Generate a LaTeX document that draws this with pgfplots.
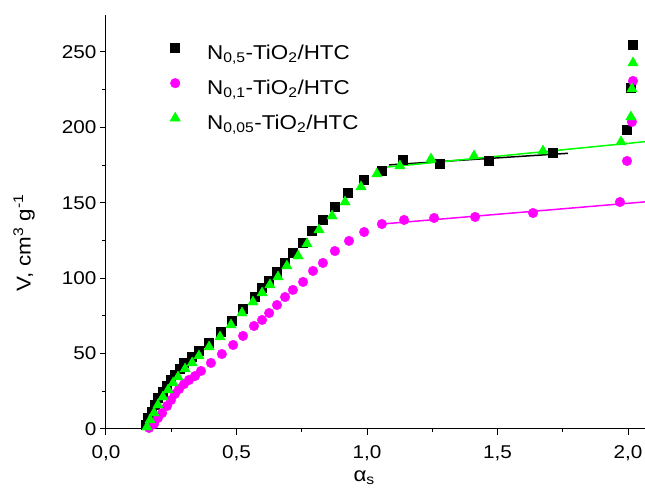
\documentclass[border=0pt]{standalone}
\usepackage{fontspec}
\setmainfont{Liberation Sans}[FakeStretch=1.12]
\usepackage{pgfplots}
\pgfplotsset{compat=1.18}
\usetikzlibrary{calc}
\definecolor{mag}{RGB}{255,0,255}
\definecolor{grn}{RGB}{0,255,0}
\begin{document}
\begin{tikzpicture}
\begin{axis}[
 scale only axis, width=539pt, height=414pt,
 xmin=0, xmax=2.065, ymin=0, ymax=274.5,
 clip=false,
 axis lines=left, axis line style={-, line width=1pt, black},
 xtick={0,0.5,1,1.5,2}, minor xtick={0.25,0.75,1.25,1.75},
 ytick={0,50,...,250}, minor ytick={25,75,...,225},
 tick align=outside, major tick length=6pt, minor tick length=3.5pt,
 every tick/.style={black, line width=1pt},
 /pgf/number format/assume math mode=true,
 xticklabel style={yshift=-7pt, /pgf/number format/.cd, fixed, fixed zerofill, precision=1, use comma},
 yticklabel style={/pgf/number format/fixed},
 tick label style={font=\fontsize{18.5}{20}\selectfont},
 xlabel={α\textsubscript{s}},
 xlabel style={at={(axis description cs:0.479,-0.127)}, anchor=base, font=\fontsize{20}{24}\selectfont},
 ylabel={V, cm\textsuperscript{3} g\textsuperscript{-1}},
 ylabel style={at={(axis description cs:-0.152,0.449)}, anchor=center, font=\fontsize{20}{24}\selectfont},
 legend style={draw=none, fill=none, at={(axis description cs:0.1113,0.9457)}, anchor=north west,
   font=\fontsize{20}{24}\selectfont, row sep=0pt, inner sep=0pt,
   nodes={text height=15pt, text depth=6pt, inner ysep=7pt, inner xsep=0pt}},
 legend image code/.code={\draw[mark repeat=2,mark phase=2,#1] plot coordinates {(0pt,7pt)(0pt,7pt)(0pt,7pt)}; \path[draw=none, fill=none] (-9pt,0pt) rectangle (32pt,10pt);},
 legend cell align=left,
]
\coordinate (bl) at (rel axis cs:0,0);
\coordinate (tr) at (rel axis cs:1,1);
% N0.5
\addplot[only marks, mark=square*, mark size=4.5pt, black] coordinates {
(0.153,2.7)(0.161,7.3)(0.176,11.3)(0.188,15.9)(0.199,20.6)(0.218,24.5)(0.234,28.5)
(0.249,32.5)(0.264,35.8)(0.284,39.8)(0.299,43.8)(0.330,47.7)(0.356,51.7)(0.395,57.0)
(0.441,64.3)(0.483,71.6)(0.525,79.6)(0.571,87.5)(0.598,93.5)(0.625,98.1)(0.655,104.1)
(0.686,110.1)(0.716,116.7)(0.755,123.3)(0.789,131.3)(0.831,138.6)(0.877,147.2)
(0.927,156.5)(0.989,165.1)(1.057,171.1)(1.138,178.4)(1.280,175.7)(1.467,177.7)
(1.713,183.0)(1.996,198.3)(2.011,226.1)(2.019,254.6)};
\addlegendentry{N\textsubscript{0,5}-TiO\textsubscript{2}/HTC}
% N0.1
\addplot[only marks, mark=*, mark size=4.8pt, mag, mark options={draw=mag, fill=mag}] coordinates {
(0.165,0.7)(0.184,3.3)(0.199,7.3)(0.215,10.6)(0.234,15.3)(0.249,19.2)(0.264,23.2)
(0.280,26.5)(0.299,29.8)(0.318,32.5)(0.341,35.1)(0.364,38.5)(0.402,43.8)(0.444,49.7)
(0.487,55.7)(0.525,61.7)(0.567,68.3)(0.598,72.3)(0.625,76.9)(0.655,82.2)(0.686,87.5)
(0.716,92.2)(0.755,97.5)(0.793,104.8)(0.831,110.1)(0.877,118.0)(0.931,124.7)
(0.989,130.6)(1.057,135.9)(1.142,138.6)(1.257,139.9)(1.414,140.6)(1.636,143.2)
(1.969,150.5)(1.996,177.7)(2.015,203.6)(2.019,230.8)};
\addlegendentry{N\textsubscript{0,1}-TiO\textsubscript{2}/HTC}
% N0.05
\addplot[only marks, mark=triangle*, mark size=6pt, grn, mark options={draw=grn, fill=grn}] coordinates {
(0.157,1.3)(0.169,6.0)(0.184,10.6)(0.199,15.9)(0.218,21.2)(0.238,25.9)(0.257,30.5)
(0.276,34.5)(0.303,39.8)(0.330,43.8)(0.356,48.4)(0.395,54.4)(0.437,61.0)(0.479,69.0)
(0.521,76.9)(0.563,84.2)(0.598,90.2)(0.628,95.5)(0.659,100.8)(0.693,108.1)(0.736,114.7)
(0.770,122.7)(0.816,132.0)(0.866,141.2)(0.916,150.5)(0.977,160.5)(1.038,169.1)
(1.126,174.4)(1.245,179.0)(1.410,181.0)(1.674,184.3)(1.973,190.3)(2.011,206.9)
(2.015,225.5)(2.019,242.7)};
\addlegendentry{N\textsubscript{0,05}-TiO\textsubscript{2}/HTC}
% fitted lines
\addplot[forget plot, black, line width=1.5pt] coordinates {(1.084,175.1)(1.770,182.8)};
\addplot[forget plot, mag, line width=1.5pt] coordinates {(1.057,135.9)(2.065,150.6)};
\addplot[forget plot, grn, line width=1.5pt] coordinates {(1.038,173.0)(2.065,190.5)};
\end{axis}
\pgfresetboundingbox
\path ($(bl)+(-106pt,-62pt)$) rectangle ($(tr)+(0pt,15pt)$);
\end{tikzpicture}
\end{document}
